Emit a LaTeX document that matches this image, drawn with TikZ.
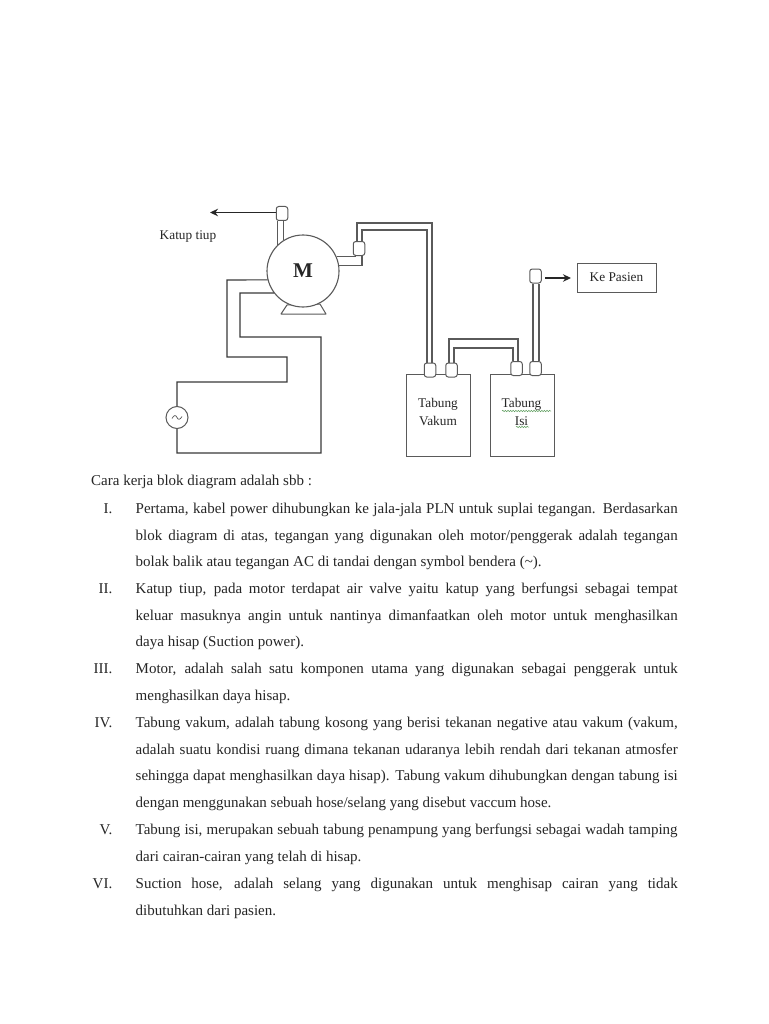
\documentclass[tikz,border=0pt]{standalone}
\usepackage{fontspec}
\setmainfont{Liberation Serif}
\usetikzlibrary{arrows.meta,calc,decorations.pathmorphing}
\definecolor{ink}{HTML}{3A3A3A}
\definecolor{boxink}{HTML}{5A5A5A}
\definecolor{txt}{HTML}{262626}
\definecolor{squig}{HTML}{5E9E5E}
\newcommand{\firstline}{\rule{0pt}{12pt}}
\tikzset{
  wire/.style={draw=ink,line width=1.15pt,line join=miter},
  tube/.style={draw=boxink,line width=1.1pt},
  valve/.style={draw=boxink,fill=white,line width=1pt,rounded corners=2.5pt,minimum width=11.5pt,minimum height=14pt,inner sep=0pt},
  tank/.style={draw=boxink,fill=white,line width=1pt,minimum width=64pt,minimum height=82pt,inner sep=0pt},
  label/.style={text=txt,font=\fontsize{13.3}{18}\selectfont,inner sep=0pt,align=center},
  item/.style={text=txt,font=\fontsize{15}{26.8}\selectfont,inner sep=0pt,anchor=north west,text width=542pt,align=justify},
  num/.style={text=txt,font=\fontsize{15}{18}\selectfont,inner sep=0pt,anchor=base east},
  arrowline/.style={draw=black!85,line width=1.2pt,-{Stealth[length=8pt,width=7.5pt]}},
  squiggle/.style={draw=squig,line width=0.5pt,decorate,decoration={snake,segment length=2.6pt,amplitude=0.7pt}}
}
\begin{document}
\begin{tikzpicture}[x=1pt,y=-1pt]
\tolerance=9999 \hyphenpenalty=10000 \emergencystretch=40pt \hbadness=10000 \hfuzz=20pt
\useasboundingbox[fill=white] (0,0) rectangle (768,1024);

% motor and its foot
\fill[white,draw=boxink,line width=1pt,line join=round] (281,314) -- (287,305) -- (320,304) -- (326,314) -- cycle;
\node[circle,draw=boxink,fill=white,line width=1.1pt,minimum size=72pt,inner sep=0pt,font=\fontsize{21}{24}\selectfont\bfseries,text=black!85] (motor) at (303,271) {\raisebox{1pt}{M}};

% valves
\node[valve] (vT) at (282,213.5) {};
\node[valve] (vM) at (359,248.5) {};
\node[valve] (vE) at (535.5,276) {};

% tanks
\node[tank] (tankA) at (438,415) {};
\node[tank] (tankB) at (522.5,415) {};
\node[valve] (vA) at (430,370) {};
\node[valve] (vB) at (451.5,370) {};
\node[valve] (vC) at (516.5,368.5) {};
\node[valve] (vD) at (535.5,368.5) {};

% AC source
\node[circle,draw=boxink,line width=1pt,minimum size=22pt,inner sep=0pt] (ac) at (177,417.5) {};
\draw[boxink,line width=0.7pt] (172,418.5) .. controls (174,414.5) and (176,415) .. (177,417.5) .. controls (178,420) and (180,420) .. (182,416.5);

% destination box
\node[draw=boxink,line width=1pt,minimum width=79pt,minimum height=29pt,inner sep=0pt,label] (kp) at (616.5,277.5) {Ke Pasien};

% labels
\node[label] (lkt) at (188,237) {Katup tiup};
\node[label] (lta) at (438,412) {Tabung\\[0pt]Vakum};
\node[label] (ltb) at (521.5,412) {Tabung\\[0pt]Isi};
\coordinate (sq1a) at (502,411);\coordinate (sq1b) at (551,411);
\coordinate (sq2a) at (516,427);\coordinate (sq2b) at (529,427);
\draw[squiggle] (sq1a) -- (sq1b);
\draw[squiggle] (sq2a) -- (sq2b);

% blow valve
\coordinate (blow) at (210,212.5);
\draw[arrowline] (vT.west |- blow) -- (blow);
\draw[tube] (motor.134) -- (motor.134 |- vT.south);
\draw[tube] (motor.122.8) -- (motor.122.8 |- vT.south);

% motor to valve
\draw[tube] (motor.23) -| ($(vM.south)+(-4,0)$);
\draw[tube] (motor.9.6) -| ($(vM.south)+(3,0)$);

% long hose
\coordinate (h1) at (400,223);
\coordinate (h2) at (400,230);
\draw[tube] ($(vM.north)+(-2,0)$) |- (h1) -| ($(vA.north)+(2,0)$);
\draw[tube] ($(vM.north)+(3,0)$) |- (h2) -| ($(vA.north)+(-3,0)$);

% vacuum hose
\coordinate (h3) at (480,339);
\coordinate (h4) at (480,348);
\draw[tube] ($(vB.north)+(-2.5,0)$) |- (h3) -| ($(vC.north)+(1.5,0)$);
\draw[tube] ($(vB.north)+(2.5,0)$) |- (h4) -| ($(vC.north)+(-3.5,0)$);

% suction hose
\draw[tube] ($(vD.north)+(-2.5,0)$) -- ($(vE.south)+(-2.5,0)$);
\draw[tube] ($(vD.north)+(3.5,0)$) -- ($(vE.south)+(3.5,0)$);
\coordinate (kpstart) at (545,278);
\coordinate (kpend) at (571,278);
\draw[arrowline] (kpstart) -- (kpend);

% power wiring
\coordinate (a1) at (227,280);
\coordinate (a2) at (227,357);
\coordinate (a3) at (287,357);
\coordinate (a4) at (287,382);
\coordinate (a5) at (177,382);
\draw[wire] (motor.194.5) -- (a1) -- (a2) -- (a3) -- (a4) -- (a5) -- (ac.north);
\coordinate (b1) at (240,293);
\coordinate (b2) at (240,337);
\coordinate (b3) at (321,337);
\coordinate (b4) at (321,453);
\coordinate (b5) at (177,453);
\draw[wire] (motor.217.7) -- (b1) -- (b2) -- (b3) -- (b4) -- (b5) -- (ac.south);

% text
\node[text=txt,font=\fontsize{15}{18}\selectfont,inner sep=0pt,anchor=base west] (intro) at (91,485.5) {Cara kerja blok diagram adalah sbb :};

\node[num] (n1) at (112.5,513) {I.};
\node[item] (t1) at (135.5,501) {\firstline Pertama, kabel power dihubungkan ke jala-jala PLN untuk suplai tegangan. Berdasarkan\linebreak blok diagram di atas, tegangan yang digunakan oleh motor/penggerak adalah tegangan\linebreak bolak balik atau tegangan AC di tandai dengan symbol bendera (\textasciitilde).};

\node[num] (n2) at (112.5,593) {II.};
\node[item] (t2) at (135.5,581) {\firstline Katup tiup, pada motor terdapat air valve yaitu katup yang berfungsi sebagai tempat\linebreak keluar masuknya angin untuk nantinya dimanfaatkan oleh motor untuk menghasilkan\linebreak daya hisap (Suction power).};

\node[num] (n3) at (112.5,673.5) {III.};
\node[item] (t3) at (135.5,661.5) {\firstline Motor, adalah salah satu komponen utama yang digunakan sebagai penggerak untuk\linebreak menghasilkan daya hisap.};

\node[num] (n4) at (112.5,727) {IV.};
\node[item] (t4) at (135.5,715) {\firstline Tabung vakum, adalah tabung kosong yang berisi tekanan negative atau vakum (vakum,\linebreak adalah suatu kondisi ruang dimana tekanan udaranya lebih rendah dari tekanan atmosfer\linebreak sehingga dapat menghasilkan daya hisap). Tabung vakum dihubungkan dengan tabung isi\linebreak dengan menggunakan sebuah hose/selang yang disebut vaccum hose.};

\node[num] (n5) at (112.5,834) {V.};
\node[item] (t5) at (135.5,822) {\firstline Tabung isi, merupakan sebuah tabung penampung yang berfungsi sebagai wadah tamping\linebreak dari cairan-cairan yang telah di hisap.};

\node[num] (n6) at (112.5,888) {VI.};
\node[item] (t6) at (135.5,876) {\firstline Suction hose, adalah selang yang digunakan untuk menghisap cairan yang tidak\linebreak dibutuhkan dari pasien.};
\end{tikzpicture}
\end{document}
